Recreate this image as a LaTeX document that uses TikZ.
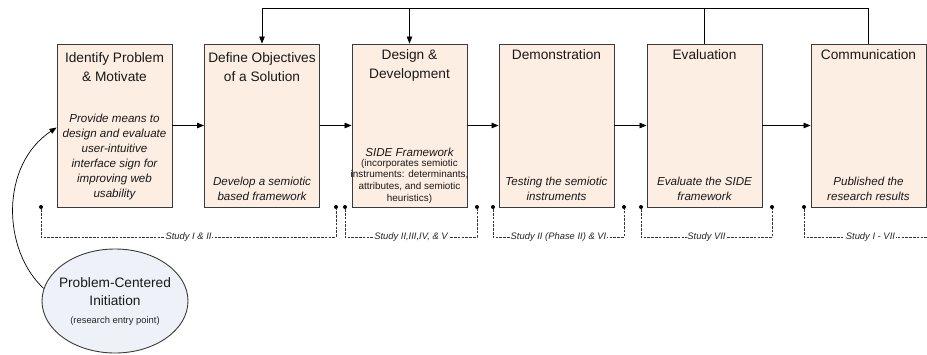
\documentclass[tikz,border=0pt]{standalone}
\usepackage{fontspec}
\setmainfont{Liberation Sans}
\usetikzlibrary{arrows.meta,shapes.geometric,calc}
\definecolor{boxfill}{HTML}{FDEEE4}
\definecolor{ellfill}{HTML}{EEF2F8}
\definecolor{edge}{HTML}{3A3A3A}
\begin{document}
\begin{tikzpicture}[x=1pt,y=-1pt,
  stage/.style={draw=edge, line width=0.9pt, fill=boxfill, minimum width=115pt, minimum height=163pt, inner sep=0pt},
  ttl/.style={anchor=north, align=center, font=\fontsize{13.7}{19}\selectfont, inner sep=0pt, text=black!90},
  bodytxt/.style={anchor=south, align=center, font=\fontsize{11.6}{15}\selectfont\itshape, inner sep=0pt, text=black!90},
  smalltxt/.style={anchor=south, align=center, font=\fontsize{9.9}{11.7}\selectfont, inner sep=0pt, text=black!90},
  arr/.style={-{Triangle[length=7pt,width=5.5pt]}, line width=0.8pt},
  dashln/.style={dash pattern=on 2.6pt off 1.2pt, line width=0.7pt, draw=black!80},
  lbl/.style={fill=white, inner sep=0.8pt, font=\fontsize{9.4}{11}\selectfont\itshape, text=black!85},
  dotc/.style={circle, fill=black, inner sep=0pt, minimum size=4pt}]
\useasboundingbox (0,0) rectangle (927,354);

% process stages
\node[stage] (b1) at (114.5,125.5) {};
\node[stage] (b2) at (262,125.5) {};
\node[stage] (b3) at (409.5,125.5) {};
\node[stage] (b4) at (556.5,125.5) {};
\node[stage] (b5) at (704.5,125.5) {};
\node[stage] (b6) at (868.5,125.5) {};

% stage titles
\node[ttl] (t1) at ([yshift=-9pt]b1.north) {Identify Problem\\\& Motivate};
\node[ttl] (t2) at ([yshift=-9pt]b2.north) {Define Objectives\\of a Solution};
\node[ttl] (t3) at ([yshift=-6pt]b3.north) {Design \&\\Development};
\node[ttl] (t4) at ([yshift=-6pt]b4.north) {Demonstration};
\node[ttl] (t5) at ([yshift=-6pt]b5.north) {Evaluation};
\node[ttl] (t6) at ([yshift=-6pt]b6.north) {Communication};

% stage descriptions
\node[bodytxt] (d1) at ([yshift=7pt]b1.south) {Provide means to\\design and evaluate\\user-intuitive\\interface sign for\\improving web\\usability};
\node[bodytxt] (d2) at ([yshift=7pt]b2.south) {Develop a semiotic\\based framework};
\node[smalltxt] (d3b) at ([yshift=4pt]b3.south) {(incorporates semiotic\\instruments: determinants,\\attributes, and semiotic\\heuristics)};
\node[bodytxt] (d3) at ([yshift=2pt]d3b.north) {SIDE Framework};
\node[bodytxt] (d4) at ([yshift=7pt]b4.south) {Testing the semiotic\\instruments};
\node[bodytxt] (d5) at ([yshift=7pt]b5.south) {Evaluate the SIDE\\framework};
\node[bodytxt] (d6) at ([yshift=7pt]b6.south) {Published the\\research results};

% forward flow
\draw[arr] (b1.east) -- (b2.west);
\draw[arr] (b2.east) -- (b3.west);
\draw[arr] (b3.east) -- (b4.west);
\draw[arr] (b4.east) -- (b5.west);
\draw[arr] (b5.east) -- (b6.west);

% iteration feedback
\coordinate (fb) at (0,8);
\draw[arr] (b6.north) -- (b6.north |- fb) -- (b2.north |- fb) -- (b2.north);
\draw[arr] (b3.north |- fb) -- (b3.north);
\draw[line width=0.8pt] (b5.north) -- (b5.north |- fb);

% entry point
\node[ellipse, draw=edge, line width=0.9pt, fill=ellfill, minimum width=146pt, minimum height=104pt, inner sep=0pt] (ell) at (115,301) {};
\node[align=center, inner sep=0pt, font=\fontsize{13.7}{18}\selectfont, text=black!90] (et) at (115,292) {Problem-Centered\\Initiation};
\node[inner sep=0pt, font=\fontsize{9.4}{11}\selectfont, text=black!85] (es) at (115,321) {(research entry point)};
\draw[arr, line width=0.7pt] (ell.170) .. controls (2,250) and (0,165) .. ([yshift=-2pt]b1.west);

% study brackets
\node[dotc] (p1) at (41,207) {};
\node[dotc] (p2) at (336,207) {};
\node[dotc] (p3) at (345,207) {};
\node[dotc] (p4) at (477,207) {};
\node[dotc] (p5) at (493,207) {};
\node[dotc] (p6) at (624,207) {};
\node[dotc] (p7) at (641,207) {};
\node[dotc] (p8) at (772,207) {};
\node[dotc] (p9) at (804,207) {};
\coordinate (q) at (927,237);

\draw[dashln] (p1) -- ++(0,30) -- node[lbl]{Study I \& II} ($(p2)+(0,30)$) -- (p2);
\draw[dashln] (p3) -- ++(0,30) -- node[lbl]{Study II,III,IV, \& V} ($(p4)+(0,30)$) -- (p4);
\draw[dashln] (p5) -- ++(0,30) -- node[lbl]{Study II (Phase II) \& VI} ($(p6)+(0,30)$) -- (p6);
\draw[dashln] (p7) -- ++(0,30) -- node[lbl]{Study VII} ($(p8)+(0,30)$) -- (p8);
\draw[dashln] (p9) -- ++(0,30) -- node[lbl, pos=0.54]{Study I - VII} (q);
\end{tikzpicture}
\end{document}
